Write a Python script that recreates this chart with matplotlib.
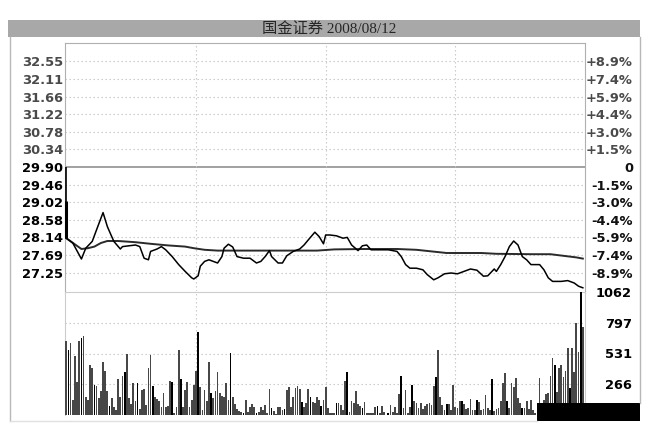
import matplotlib
matplotlib.use('Agg')
import matplotlib.pyplot as plt
from matplotlib.patches import Rectangle

plt.rcParams['font.family'] = ['DejaVu Sans']

title = '国金证券 2008/08/12'
prev_close = 29.90

# left price labels and right percent labels
price_ticks = [32.55, 32.11, 31.66, 31.22, 30.78, 30.34, 29.90,
               29.46, 29.02, 28.58, 28.14, 27.69, 27.25]
pct_labels = ['+8.9%', '+7.4%', '+5.9%', '+4.4%', '+3.0%', '+1.5%', '0',
              '-1.5%', '-3.0%', '-4.4%', '-5.9%', '-7.4%', '-8.9%']
vol_ticks = [266, 531, 797, 1062]

# minute price line (minute index, price)
price_min = [0, 3, 7, 9, 12, 14, 17, 19, 22, 25,
             26, 29, 32, 34, 36, 38, 39, 42, 44, 46,
             49, 52, 55, 58, 59, 61, 62, 64, 66, 69,
             70, 72, 73, 75, 77, 79, 82, 85, 88, 90,
             92, 94, 95, 98, 100, 102, 105, 108, 110, 112,
             115, 117, 119, 120, 122, 125, 128, 130, 132, 135,
             137, 139, 141, 144, 149, 153, 155, 157, 159, 162,
             165, 167, 170, 172, 175, 178, 181, 184, 187, 190,
             193, 195, 198, 199, 201, 203, 205, 207, 209, 211,
             213, 215, 219, 221, 223, 225, 229, 232, 235, 237,
             239]
price_val = [28.12, 28.00, 27.60, 27.87, 28.04, 28.33, 28.76, 28.41, 28.04, 27.85,
             27.91, 27.93, 27.95, 27.91, 27.62, 27.58, 27.79, 27.85, 27.91, 27.83,
             27.66, 27.46, 27.29, 27.13, 27.10, 27.18, 27.42, 27.54, 27.58, 27.52,
             27.50, 27.66, 27.87, 27.97, 27.90, 27.66, 27.62, 27.62, 27.50, 27.54,
             27.66, 27.81, 27.66, 27.50, 27.50, 27.68, 27.79, 27.85, 27.95, 28.08,
             28.27, 28.16, 27.98, 28.20, 28.20, 28.18, 28.12, 28.14, 27.95, 27.81,
             27.93, 27.95, 27.83, 27.83, 27.83, 27.79, 27.66, 27.46, 27.37, 27.37,
             27.33, 27.21, 27.08, 27.13, 27.23, 27.25, 27.23, 27.29, 27.35, 27.32,
             27.17, 27.18, 27.35, 27.29, 27.46, 27.66, 27.91, 28.05, 27.95, 27.66,
             27.58, 27.46, 27.46, 27.33, 27.13, 27.04, 27.04, 27.06, 27.00, 26.92,
             26.88]
first_high = 29.05

# average price line
avg_min = [0, 7, 10, 13, 16, 19, 24, 32, 39, 47,
           55, 59, 64, 70, 85, 100, 116, 124, 138, 153,
           162, 169, 176, 192, 199, 215, 224, 230, 236, 239]
avg_val = [28.12, 27.85, 27.87, 27.91, 28.00, 28.05, 28.05, 28.02, 27.98, 27.94,
           27.91, 27.87, 27.83, 27.81, 27.81, 27.81, 27.81, 27.84, 27.85, 27.85,
           27.83, 27.79, 27.75, 27.75, 27.73, 27.72, 27.72, 27.68, 27.64, 27.61]

# volume per minute, 240 bars
volume = [638, 559, 623, 130, 507, 281, 638, 667, 681, 159,
          130, 435, 406, 261, 252, 145, 203, 458, 377, 203,
          78, 145, 67, 43, 310, 159, 333, 368, 530, 145,
          96, 275, 122, 275, 49, 217, 223, 87, 406, 522,
          252, 159, 136, 125, 67, 194, 72, 78, 296, 284,
          14, 67, 559, 313, 72, 217, 287, 72, 130, 261,
          377, 716, 241, 43, 217, 125, 458, 194, 145, 203,
          368, 194, 165, 159, 275, 130, 536, 159, 96, 49,
          38, 23, 20, 130, 29, 72, 96, 67, 14, 29,
          72, 43, 90, 20, 223, 58, 38, 9, 72, 67,
          43, 49, 212, 241, 72, 154, 232, 252, 223, 116,
          72, 101, 223, 154, 116, 107, 159, 130, 78, 130,
          246, 58, 14, 14, 14, 101, 101, 87, 43, 290,
          368, 29, 125, 107, 203, 96, 78, 58, 116, 20,
          14, 14, 14, 72, 81, 14, 78, 29, 3, 14,
          87, 29, 72, 14, 183, 333, 58, 212, 14, 72,
          261, 125, 101, 58, 101, 49, 78, 96, 101, 87,
          252, 325, 559, 159, 87, 43, 96, 96, 43, 261,
          66, 58, 121, 121, 92, 52, 63, 138, 43, 43,
          130, 115, 43, 52, 173, 63, 43, 311, 35, 52,
          58, 121, 273, 360, 121, 63, 273, 245, 322, 144,
          101, 63, 58, 121, 52, 130, 43, 14, 81, 322,
          101, 130, 178, 187, 340, 495, 432, 201, 403, 432,
          331, 380, 576, 236, 576, 368, 791, 547, 1062, 763]
dark_bars = [1, 7, 13, 20, 27, 33, 40, 49, 53, 61, 67, 76, 82, 88, 95, 101,
             109, 113, 118, 125, 130, 137, 144, 149, 155, 160, 171, 176, 183,
             190, 197, 204, 211, 218, 226, 233, 238]

W, H = 656, 448


def fig_rect(x0, y0, x1, y1):
    return [x0 / W, 1 - y1 / H, (x1 - x0) / W, (y1 - y0) / H]


fig = plt.figure(figsize=(6.56, 4.48), dpi=100)
fig.patch.set_facecolor('white')

dot = (0, (1.2, 2.4))
grid_c = '#c4c4c4'
frame_c = '#b0b0b0'
lab_font = dict(fontsize=9.4, fontweight='bold')

# ---- price panel
ax = fig.add_axes(fig_rect(65, 43, 585, 291))
ax.set_xlim(-0.6, 240)
ax.set_ylim(26.80, 33.00)
for v in price_ticks:
    if v != prev_close:
        ax.axhline(v, color=grid_c, lw=0.8, ls=dot, zorder=1)
ax.axhline(prev_close, color='#9a9a9a', lw=1.3, zorder=1)
ax.axhline(26.80, color=grid_c, lw=0.8, ls=dot, zorder=1)
for m in [60, 120, 180]:
    ax.axvline(m, color=grid_c, lw=0.8, ls=dot, zorder=1)

ax.plot(avg_min, avg_val, color='#2a2a2a', lw=1.4, zorder=3)
ax.plot(price_min, price_val, color='#000000', lw=1.1, zorder=4)
ax.vlines(0, price_val[0], prev_close, color='k', lw=1.2, zorder=4, clip_on=False)
ax.vlines(0, price_val[0], first_high, color='k', lw=2.2, zorder=4, clip_on=False)

ax.set_xticks([])
ax.set_yticks(price_ticks)
ax.set_yticklabels([f'{v:.2f}' for v in price_ticks], **lab_font)
ax.tick_params(axis='y', length=0, pad=1.5)
for lab, v in zip(ax.get_yticklabels(), price_ticks):
    lab.set_color('#4a4a4a' if v > prev_close else '#000000')
for s in ax.spines.values():
    s.set_color(frame_c)
ax.spines['bottom'].set_visible(False)

ax2 = ax.twinx()
ax2.set_ylim(ax.get_ylim())
ax2.set_yticks(price_ticks)
ax2.set_yticklabels(pct_labels, **lab_font)
ax2.tick_params(axis='y', length=0, pad=34.5)
for lab, v in zip(ax2.get_yticklabels(), price_ticks):
    lab.set_ha('right')
    lab.set_color('#4a4a4a' if v > prev_close else '#111111')
for s in ax2.spines.values():
    s.set_visible(False)

# ---- volume panel
axv = fig.add_axes(fig_rect(65, 292, 585, 415))
axv.set_xlim(-0.6, 240)
axv.set_ylim(0, 1062)
for v in vol_ticks[:-1]:
    axv.axhline(v, color=grid_c, lw=0.8, ls=dot, zorder=1)
for m in [60, 120, 180]:
    axv.axvline(m, color=grid_c, lw=0.8, ls=dot, zorder=1)
bar_colors = ['#000000' if i in dark_bars else '#474747' for i in range(len(volume))]
axv.bar(range(len(volume)), volume, width=0.8, color=bar_colors, lw=0, zorder=3)
axv.set_xticks([])
axv.yaxis.tick_right()
axv.set_yticks(vol_ticks)
axv.set_yticklabels([str(v) for v in vol_ticks], **lab_font)
axv.tick_params(axis='y', length=0, pad=33.8)
for lab in axv.get_yticklabels():
    lab.set_ha('right')
for s in axv.spines.values():
    s.set_color('#cccccc')
axv.spines['bottom'].set_visible(False)

# ---- outer frame, title bar, black box
ov = fig.add_axes([0, 0, 1, 1], zorder=5)
ov.set_xlim(0, W)
ov.set_ylim(H, 0)
ov.axis('off')
ov.patch.set_alpha(0)
ov.add_patch(Rectangle((8, 20), 632, 17, color='#a8a8a8', lw=0))
ov.text(329, 28.8, title, ha='center', va='center', fontsize=11, color='#262626',
        family=['Liberation Serif', 'Noto Sans CJK SC'])
ov.plot([9.5, 9.5], [37, 421], color='#b8b8b8', lw=1)
ov.plot([640, 640], [37, 403], color='#b8b8b8', lw=1)
ov.plot([9.5, 537], [421, 421], color='#e0e0e0', lw=1)
ov.add_patch(Rectangle((537, 403), 103, 18, color='black', lw=0))

fig.savefig('out.png', dpi=100)
